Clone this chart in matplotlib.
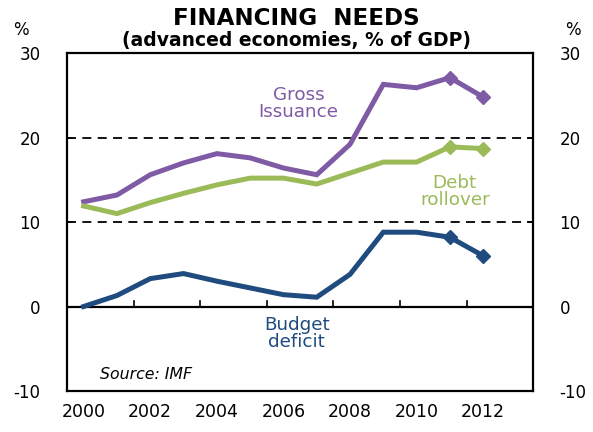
import matplotlib
import matplotlib.pyplot as plt

matplotlib.use('Agg')
plt.rcParams['font.family'] = ['DejaVu Sans']
plt.rcParams['axes.unicode_minus'] = False

years = list(range(2000, 2013))
gross_issuance = [12.4, 13.2, 15.6, 17.0, 18.1, 17.6, 16.4, 15.6, 19.2, 26.3, 25.9, 27.1, 24.8]
debt_rollover = [11.9, 11.0, 12.3, 13.4, 14.4, 15.2, 15.2, 14.5, 15.8, 17.1, 17.1, 18.9, 18.7]
budget_deficit = [0.0, 1.3, 3.3, 3.9, 3.0, 2.2, 1.4, 1.1, 3.8, 8.8, 8.8, 8.2, 6.0]
year_labels = ['2000', '2002', '2004', '2006', '2008', '2010', '2012']
y_ticks = [-10, 0, 10, 20, 30]

purple = '#7f5ba6'
green = '#9bbb59'
navy = '#1f4b7f'


def main():
    fig = plt.figure(figsize=(5.93, 4.32), dpi=100)
    ax = fig.add_axes([0.113, 0.095, 0.786, 0.782])

    x = [y - 2000 for y in years]
    ax.axhline(0, color='black', lw=1.6, zorder=2)
    for g in (10, 20):
        ax.axhline(g, color='black', lw=1.3, ls=(0, (5, 3.5)), zorder=1)

    kw = dict(lw=3.6, marker='D', markersize=7.5, markevery=[11, 12], solid_joinstyle='miter', zorder=3)
    ax.plot(x, gross_issuance, color=purple, **kw)
    ax.plot(x, debt_rollover, color=green, **kw)
    ax.plot(x, budget_deficit, color=navy, **kw)

    # ticks sitting on the zero line, between category pairs
    for t in [1.5, 3.5, 5.5, 7.5, 9.5, 11.5]:
        ax.plot([t, t], [0, 0.6], color='black', lw=1.2, zorder=2)

    ax.set_xlim(-0.5, 13.5)
    ax.set_ylim(-10, 30)
    ax.set_xticks([])
    ax.set_yticks(y_ticks)
    ax.tick_params(axis='y', direction='in', length=4, width=1.2, labelsize=12,
                   left=True, right=True, labelleft=True, labelright=True, pad=19)
    for tk in ax.yaxis.get_major_ticks():
        tk.label1.set_horizontalalignment('right')
        tk.label2.set_horizontalalignment('left')
    for s in ax.spines.values():
        s.set_linewidth(1.6)

    for i, lab in enumerate(year_labels):
        ax.text(2 * i, -12.5, lab, ha='center', va='center', fontsize=12.5, clip_on=False)

    ax.text(6.45, 24.0, 'Gross\nIssuance', color=purple, fontsize=13.2, ha='center', va='center', linespacing=0.95)
    ax.text(11.15, 13.6, 'Debt\nrollover', color=green, fontsize=13.2, ha='center', va='center', linespacing=0.95)
    ax.text(6.4, -3.2, 'Budget\ndeficit', color=navy, fontsize=13.2, ha='center', va='center', linespacing=0.95)
    ax.text(0.5, -8.1, 'Source: IMF', fontsize=11.3, style='italic', ha='left', va='center')

    fig.text(0.5, 0.958, 'FINANCING  NEEDS', fontsize=16.6, fontweight='bold', ha='center', va='center')
    fig.text(0.5, 0.907, '(advanced economies, % of GDP)', fontsize=13.5, fontweight='bold', ha='center', va='center')
    fig.text(0.035, 0.93, '%', fontsize=12, ha='center', va='center')
    fig.text(0.967, 0.93, '%', fontsize=12, ha='center', va='center')

    plt.savefig('out.png', dpi=100)
    plt.close()


if __name__ == '__main__':
    main()
